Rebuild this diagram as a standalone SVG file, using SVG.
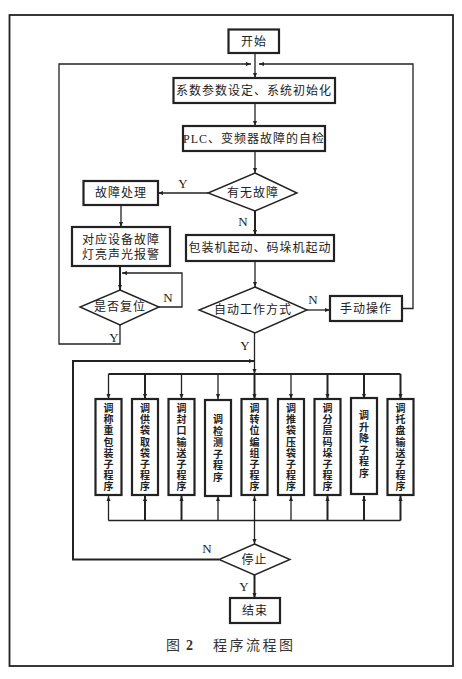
<svg xmlns="http://www.w3.org/2000/svg" width="462" height="679" viewBox="0 0 462 679">
<defs>
<marker id="ah" viewBox="0 0 6 6" refX="6" refY="3" markerWidth="5" markerHeight="5" orient="auto" markerUnits="userSpaceOnUse">
<path d="M0,0.6 L6,3 L0,5.4 Z" fill="#222"/>
</marker>
<style>
.box{fill:#fff;stroke:#222;stroke-width:2.2}
.dia{fill:#fff;stroke:#222;stroke-width:1.4}
.ln{fill:none;stroke:#222;stroke-width:1.3}
.lt{fill:none;stroke:#222;stroke-width:2}
.t{font-family:"Liberation Serif","Noto Sans CJK SC",serif;font-size:12px;fill:#222;text-anchor:middle;dominant-baseline:central;letter-spacing:1px}
.v{font-family:"Liberation Serif","Noto Sans CJK SC",serif;font-size:10px;fill:#222;text-anchor:middle;font-weight:bold}
.lb{font-family:"Liberation Serif",serif;font-size:13px;fill:#222;text-anchor:middle;dominant-baseline:central}
.cap{font-family:"Liberation Serif","Noto Sans CJK SC",serif;font-size:14px;fill:#333;dominant-baseline:central}
</style>
</defs>
<rect x="9.5" y="15" width="443.5" height="651" fill="none" stroke="#222" stroke-width="1.8"/>

<g id="connectors">
<line class="ln" x1="255" y1="53" x2="255" y2="78" marker-end="url(#ah)"/>
<polyline class="ln" points="120,325 120,344 59,344 59,64 251,64" marker-end="url(#ah)"/>
<polyline class="ln" points="402,308.5 413,308.5 413,64 259,64" marker-end="url(#ah)"/>
<line class="ln" x1="255" y1="103" x2="255" y2="126" marker-end="url(#ah)"/>
<line class="ln" x1="255" y1="151" x2="255" y2="173" marker-end="url(#ah)"/>
<line class="ln" x1="208" y1="193" x2="158" y2="193" marker-end="url(#ah)"/>
<line class="lt" x1="255" y1="211" x2="255" y2="235" marker-end="url(#ah)"/>
<line class="ln" x1="121" y1="205" x2="121" y2="227" marker-end="url(#ah)"/>
<line class="lt" x1="120" y1="266" x2="120" y2="290" marker-end="url(#ah)"/>
<polyline class="ln" points="159,307 182,307 182,273 122,273" marker-end="url(#ah)"/>
<line class="ln" x1="255" y1="261" x2="255" y2="287" marker-end="url(#ah)"/>
<line class="ln" x1="307" y1="310" x2="330" y2="310" marker-end="url(#ah)"/>
<line class="ln" x1="254.5" y1="333" x2="254.5" y2="374" marker-end="url(#ah)"/>
<line class="lt" x1="73" y1="361" x2="254" y2="361" marker-end="url(#ah)"/>
<line class="lt" x1="108.5" y1="374" x2="400.5" y2="374"/>
<line class="ln" x1="108.5" y1="374" x2="108.5" y2="399" marker-end="url(#ah)"/>
<line class="lt" x1="145" y1="374" x2="145" y2="399" marker-end="url(#ah)"/>
<line class="ln" x1="181.5" y1="374" x2="181.5" y2="399" marker-end="url(#ah)"/>
<line class="ln" x1="218" y1="374" x2="218" y2="399" marker-end="url(#ah)"/>
<line class="lt" x1="254.5" y1="374" x2="254.5" y2="399" marker-end="url(#ah)"/>
<line class="ln" x1="291" y1="374" x2="291" y2="399" marker-end="url(#ah)"/>
<line class="lt" x1="327.5" y1="374" x2="327.5" y2="399" marker-end="url(#ah)"/>
<line class="lt" x1="364" y1="374" x2="364" y2="399" marker-end="url(#ah)"/>
<line class="lt" x1="400.5" y1="374" x2="400.5" y2="399" marker-end="url(#ah)"/>
<line class="ln" x1="108.5" y1="520.5" x2="400.5" y2="520.5"/>
<line class="ln" x1="108.5" y1="520.5" x2="108.5" y2="496" marker-end="url(#ah)"/>
<line class="lt" x1="145" y1="520.5" x2="145" y2="496" marker-end="url(#ah)"/>
<line class="lt" x1="181.5" y1="520.5" x2="181.5" y2="496" marker-end="url(#ah)"/>
<line class="ln" x1="218" y1="520.5" x2="218" y2="496" marker-end="url(#ah)"/>
<line class="ln" x1="254.5" y1="520.5" x2="254.5" y2="496" marker-end="url(#ah)"/>
<line class="ln" x1="291" y1="520.5" x2="291" y2="496" marker-end="url(#ah)"/>
<line class="lt" x1="327.5" y1="520.5" x2="327.5" y2="496" marker-end="url(#ah)"/>
<line class="lt" x1="364" y1="520.5" x2="364" y2="496" marker-end="url(#ah)"/>
<line class="lt" x1="400.5" y1="520.5" x2="400.5" y2="496" marker-end="url(#ah)"/>
<line class="ln" x1="254.5" y1="520.5" x2="254.5" y2="544" marker-end="url(#ah)"/>
<polyline class="lt" points="219,559.5 73,559.5 73,360"/>
<line class="lt" x1="254.5" y1="575" x2="254.5" y2="598" marker-end="url(#ah)"/>
<text class="lb" x="183" y="183">Y</text>
<text class="lb" x="243" y="221">N</text>
<text class="lb" x="168" y="297">N</text>
<text class="lb" x="114" y="337">Y</text>
<text class="lb" x="313" y="299">N</text>
<text class="lb" x="245" y="345">Y</text>
<text class="lb" x="207" y="548">N</text>
<text class="lb" x="244" y="586">Y</text>
</g>

<g id="start"><rect class="box" x="228.5" y="29.5" width="50.5" height="23.5"/><text class="t" x="254" y="41.5">开始</text></g>
<g id="init"><rect class="box" x="173.5" y="78" width="161.5" height="25"/><text class="t" x="254" y="90.5">系数参数设定、系统初始化</text></g>
<g id="selfcheck"><rect class="box" x="183" y="126" width="142" height="25"/><text class="t" x="254" y="138.5" letter-spacing="0.5">PLC、变频器故障的自检</text></g>
<g id="fault-q"><polygon class="dia" points="255,173 297,193 255,211 208,193"/><text class="t" x="253" y="193">有无故障</text></g>
<g id="fault-handle"><rect class="box" x="83.5" y="181" width="74.5" height="24"/><text class="t" x="121" y="193">故障处理</text></g>
<g id="alarm"><rect class="box" x="72" y="227" width="98" height="39"/><text class="t" x="121" y="239.5">对应设备故障</text><text class="t" x="121" y="255">灯亮声光报警</text></g>
<g id="reset-q"><polygon class="dia" points="120,290 159,307 120,325 80,307"/><text class="t" x="120" y="307">是否复位</text></g>
<g id="startup"><rect class="box" x="186" y="235" width="148" height="26"/><text class="t" x="260" y="248">包装机起动、码垛机起动</text></g>
<g id="auto-q"><polygon class="dia" points="255,287 307,310 255,333 199,310"/><text class="t" x="253" y="310">自动工作方式</text></g>
<g id="manual"><rect class="box" x="330" y="296" width="72" height="25"/><text class="t" x="366" y="308.5">手动操作</text></g>

<g id="sub1"><rect class="box" x="95.5" y="399" width="26" height="96"/><text class="v"><tspan x="108.5" y="412">调</tspan><tspan x="108.5" dy="11.2">称</tspan><tspan x="108.5" dy="11.2">重</tspan><tspan x="108.5" dy="11.2">包</tspan><tspan x="108.5" dy="11.2">装</tspan><tspan x="108.5" dy="11.2">子</tspan><tspan x="108.5" dy="11.2">程</tspan><tspan x="108.5" dy="11.2">序</tspan></text></g>
<g id="sub2"><rect class="box" x="132" y="399" width="26" height="96"/><text class="v"><tspan x="145" y="412">调</tspan><tspan x="145" dy="11.2">供</tspan><tspan x="145" dy="11.2">袋</tspan><tspan x="145" dy="11.2">取</tspan><tspan x="145" dy="11.2">袋</tspan><tspan x="145" dy="11.2">子</tspan><tspan x="145" dy="11.2">程</tspan><tspan x="145" dy="11.2">序</tspan></text></g>
<g id="sub3"><rect class="box" x="168.5" y="399" width="26" height="96"/><text class="v"><tspan x="181.5" y="412">调</tspan><tspan x="181.5" dy="11.2">封</tspan><tspan x="181.5" dy="11.2">口</tspan><tspan x="181.5" dy="11.2">输</tspan><tspan x="181.5" dy="11.2">送</tspan><tspan x="181.5" dy="11.2">子</tspan><tspan x="181.5" dy="11.2">程</tspan><tspan x="181.5" dy="11.2">序</tspan></text></g>
<g id="sub4"><rect class="box" x="205" y="400" width="26" height="96"/><text class="v"><tspan x="218" y="423">调</tspan><tspan x="218" dy="11.6">检</tspan><tspan x="218" dy="11.6">测</tspan><tspan x="218" dy="11.6">子</tspan><tspan x="218" dy="11.6">程</tspan><tspan x="218" dy="11.6">序</tspan></text></g>
<g id="sub5"><rect class="box" x="241.5" y="399" width="26" height="96"/><text class="v"><tspan x="254.5" y="412">调</tspan><tspan x="254.5" dy="11.2">转</tspan><tspan x="254.5" dy="11.2">位</tspan><tspan x="254.5" dy="11.2">编</tspan><tspan x="254.5" dy="11.2">组</tspan><tspan x="254.5" dy="11.2">子</tspan><tspan x="254.5" dy="11.2">程</tspan><tspan x="254.5" dy="11.2">序</tspan></text></g>
<g id="sub6"><rect class="box" x="278" y="399" width="26" height="96"/><text class="v"><tspan x="291" y="412">调</tspan><tspan x="291" dy="11.2">推</tspan><tspan x="291" dy="11.2">袋</tspan><tspan x="291" dy="11.2">压</tspan><tspan x="291" dy="11.2">袋</tspan><tspan x="291" dy="11.2">子</tspan><tspan x="291" dy="11.2">程</tspan><tspan x="291" dy="11.2">序</tspan></text></g>
<g id="sub7"><rect class="box" x="314.5" y="399" width="26" height="96"/><text class="v"><tspan x="327.5" y="412">调</tspan><tspan x="327.5" dy="11.2">分</tspan><tspan x="327.5" dy="11.2">层</tspan><tspan x="327.5" dy="11.2">码</tspan><tspan x="327.5" dy="11.2">垛</tspan><tspan x="327.5" dy="11.2">子</tspan><tspan x="327.5" dy="11.2">程</tspan><tspan x="327.5" dy="11.2">序</tspan></text></g>
<g id="sub8"><rect class="box" x="351" y="398" width="26" height="96"/><text class="v"><tspan x="364" y="419">调</tspan><tspan x="364" dy="11.6">升</tspan><tspan x="364" dy="11.6">降</tspan><tspan x="364" dy="11.6">子</tspan><tspan x="364" dy="11.6">程</tspan><tspan x="364" dy="11.6">序</tspan></text></g>
<g id="sub9"><rect class="box" x="387.5" y="399" width="26" height="96"/><text class="v"><tspan x="400.5" y="412">调</tspan><tspan x="400.5" dy="11.2">托</tspan><tspan x="400.5" dy="11.2">盘</tspan><tspan x="400.5" dy="11.2">输</tspan><tspan x="400.5" dy="11.2">送</tspan><tspan x="400.5" dy="11.2">子</tspan><tspan x="400.5" dy="11.2">程</tspan><tspan x="400.5" dy="11.2">序</tspan></text></g>

<g id="stop-q"><polygon class="dia" points="254.5,544 290,559.5 254.5,575 219,559.5"/><text class="t" x="254.5" y="559.5">停止</text></g>
<g id="end"><rect class="box" x="230" y="598" width="50" height="25"/><text class="t" x="255" y="610.5">结束</text></g>

<g id="caption">
<text class="cap" x="166" y="645">图</text>
<text class="cap" x="186" y="645" font-weight="bold">2</text>
<text class="cap" x="213" y="645" letter-spacing="2.5">程序流程图</text>
</g>
</svg>
